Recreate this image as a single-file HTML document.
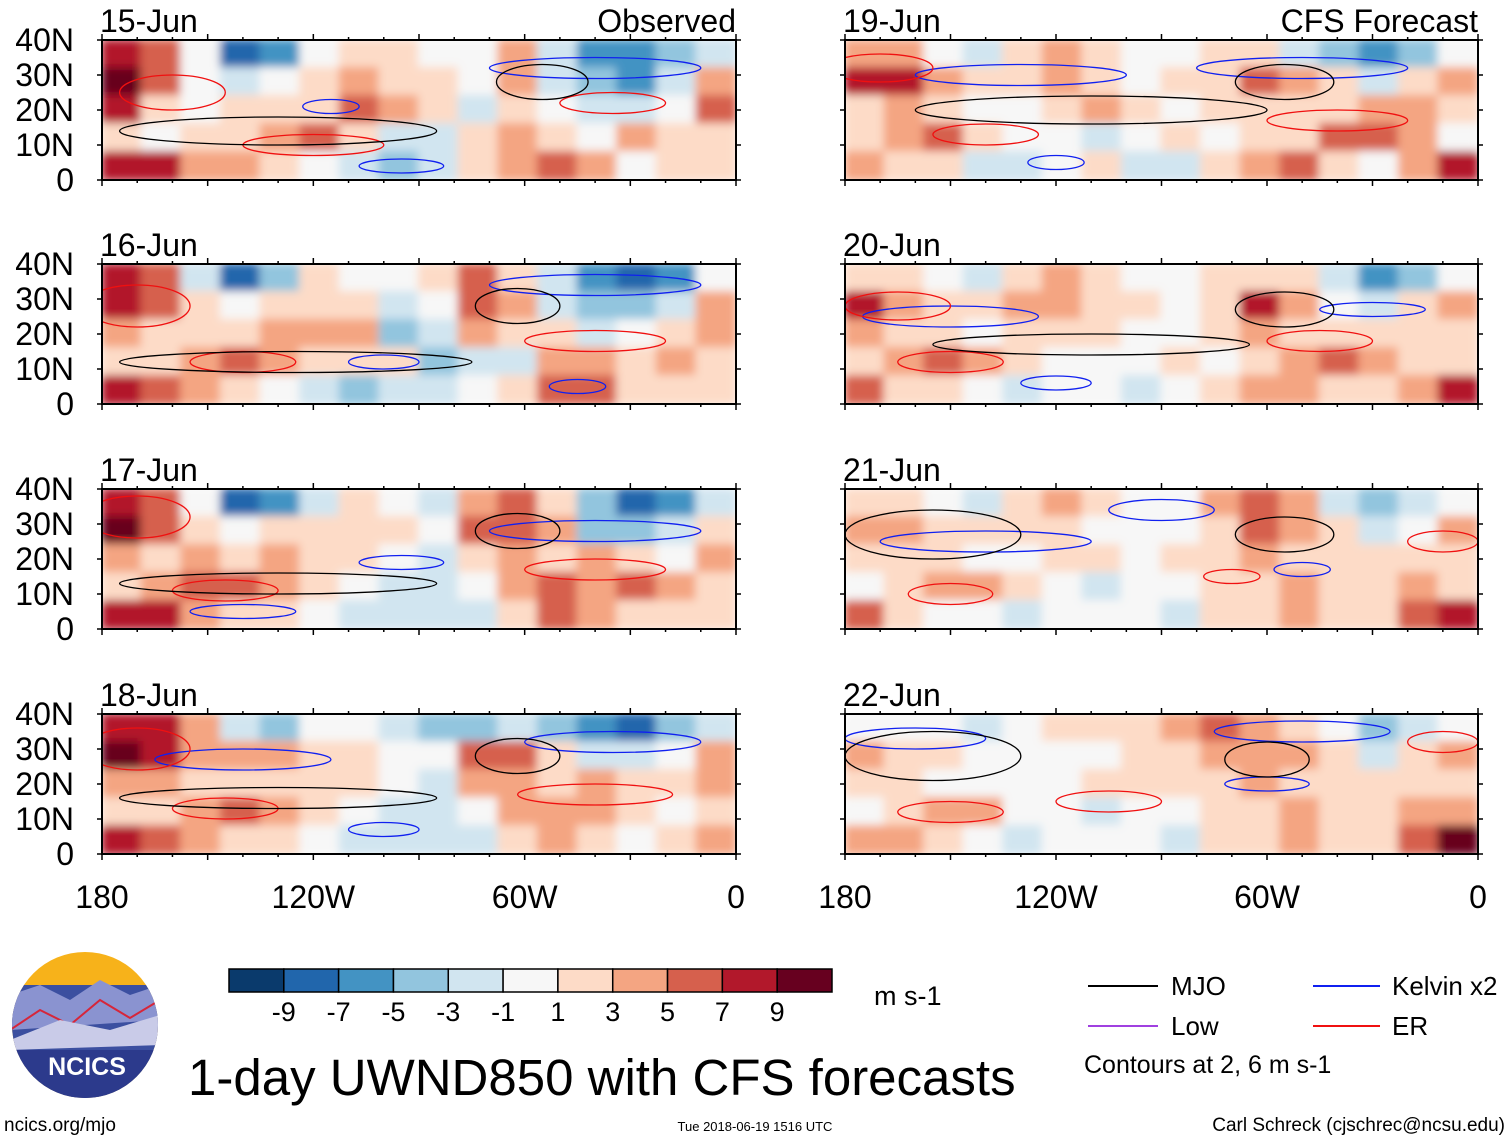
<!DOCTYPE html>
<html><head><meta charset="utf-8">
<style>
html,body{margin:0;padding:0;background:#fff;}
body{width:1510px;height:1141px;overflow:hidden;font-family:"Liberation Sans",sans-serif;}
svg text{font-family:"Liberation Sans",sans-serif;}
</style></head>
<body>
<svg id="chart" width="1510" height="1141" viewBox="0 0 1510 1141" xmlns="http://www.w3.org/2000/svg">
<defs>
<filter id="blur" x="-5%" y="-10%" width="110%" height="120%"><feGaussianBlur stdDeviation="4.5"/></filter>
</defs>
<g id="panels"></g>
<g id="bottom"></g>
</svg>
<script>
const panelLabels=["15-Jun","16-Jun","17-Jun","18-Jun","19-Jun","20-Jun","21-Jun","22-Jun"];
const panelTitles=["Observed","","","","CFS Forecast","","",""];
const latTicks=[40,30,20,10,0];
const latTickLabels=["40N","30N","20N","10N","0"];
const lonTicks=[-180,-120,-60,0];
const lonTickLabels=["180","120W","60W","0"];
const colorLevels=[-9,-7,-5,-3,-1,1,3,5,7,9];
const colorLevelLabels=["-9","-7","-5","-3","-1","1","3","5","7","9"];
const palette=["#0a3a6c","#2166ac","#4393c3","#92c5de","#d1e5f0","#f7f7f7","#fddbc7","#f4a582","#d6604d","#b2182b","#67001f"];
const u15=[[8,6,0,-8,-6,-1,1,2,0,-1,3,-2,-6,-7,-4,-2],[9,6,-1,-3,-1,1,3,2,1,0,4,-2,-5,-6,-3,3],[7,2,0,1,2,2,5,3,1,-2,2,0,-3,-2,-1,5],[1,0,2,1,3,5,2,-2,-3,1,4,2,-1,3,1,2],[8,7,4,3,1,-1,-3,-4,-2,1,3,6,3,-1,1,1]];
const u16=[[8,5,-2,-8,-4,1,0,-1,2,5,2,-3,-6,-9,-6,-1],[8,6,1,-1,1,2,2,-2,-1,6,4,-2,-5,-5,-2,3],[3,1,2,2,3,3,3,-4,-2,3,1,1,-2,-1,2,4],[1,1,3,5,3,2,1,1,-4,-2,-2,3,4,2,4,2],[7,6,3,1,0,-3,-5,-2,-2,0,2,5,6,2,1,1]];
const u17=[[8,6,-1,-9,-6,-2,1,0,-2,3,5,2,-5,-9,-6,-2],[9,5,2,-1,1,1,2,1,-1,5,6,3,-4,-5,-2,2],[4,2,3,2,3,2,1,0,-2,1,3,2,3,1,0,3],[1,3,6,5,3,1,-1,-2,-3,-1,3,6,4,5,3,2],[8,8,4,2,1,-1,-3,-2,-3,-2,2,6,3,1,1,1]];
const u18=[[8,7,4,-2,-4,-1,0,-2,-5,-4,-2,-5,-7,-8,-5,-2],[9,7,3,3,4,1,1,-1,-1,5,6,2,-3,-3,-1,3],[4,3,2,1,2,2,1,-1,-2,3,4,2,3,2,2,3],[1,2,4,5,3,1,0,-2,-3,-1,3,4,3,2,0,2],[7,6,3,2,1,-1,-3,-3,-3,-2,1,3,1,-1,1,3]];
const u19=[[3,3,0,-2,1,3,1,0,-1,2,1,-3,-4,-6,-4,-1],[8,7,4,2,2,3,1,0,2,2,6,4,1,-2,1,4],[2,3,1,0,0,2,3,1,0,1,2,1,1,3,3,1],[1,3,5,2,0,-1,-2,0,2,-1,1,2,5,6,3,0],[3,1,2,-2,-3,-1,1,-2,-2,1,3,6,1,-1,3,7]];
const u20=[[2,1,-1,-2,1,3,1,-1,-1,2,2,2,-3,-6,-4,-1],[7,4,2,1,3,3,2,1,0,2,7,3,-1,-3,1,3],[3,2,1,0,1,2,1,0,0,2,3,1,1,2,1,1],[2,4,5,3,1,0,-1,-1,1,0,2,4,5,4,2,1],[5,2,1,-1,-2,-1,0,-2,-1,1,3,4,1,1,4,7]];
const u21=[[2,1,-1,-2,1,3,1,-1,-1,3,5,3,-2,-5,-3,-1],[4,3,2,1,1,2,0,-1,-1,2,5,3,1,-3,0,3],[2,2,1,0,0,1,1,0,1,1,3,2,1,2,1,1],[0,1,3,4,1,-1,-2,-1,0,1,2,3,1,1,3,2],[5,2,0,-1,-2,-1,0,-1,-2,1,2,3,1,1,5,8]];
const u22=[[0,0,-1,-2,-1,1,2,2,3,6,4,2,-1,-4,-2,0],[3,2,1,0,-1,0,0,1,2,3,4,3,1,-3,1,3],[2,1,0,-1,0,0,1,2,1,2,3,1,1,2,2,1],[0,2,3,4,0,-1,-2,-1,0,1,2,3,1,1,3,3],[4,3,1,-1,-2,-1,0,-1,-2,1,2,3,1,1,5,9]];
const fields=[u15,u16,u17,u18,u19,u20,u21,u22];
// contours: [centerLon, centerLat, halfWidthDeg, halfHeightDeg]
const mjoContours=[[[-55,28,13,5],[-130,14,45,4]],[[-62,28,12,5],[-125,12,50,3]],[[-62,28,12,5],[-130,13,45,3]],[[-62,28,12,5],[-130,16,45,3]],[[-55,28,14,5],[-110,20,50,4]],[[-55,27,14,5],[-110,17,45,3]],[[-55,27,14,5],[-155,27,25,7]],[[-60,27,12,5],[-155,28,25,7]]];
const kelvinContours=[[[-115,21,8,2],[-95,4,12,2],[-40,32,30,3]],[[-100,12,10,2],[-45,5,8,2],[-40,34,30,3]],[[-140,5,15,2],[-40,28,30,3],[-95,19,12,2]],[[-140,27,25,3],[-35,32,25,3],[-100,7,10,2]],[[-130,30,30,3],[-50,32,30,3],[-120,5,8,2]],[[-150,25,25,3],[-30,27,15,2],[-120,6,10,2]],[[-140,25,30,3],[-90,34,15,3],[-50,17,8,2]],[[-160,33,20,3],[-50,35,25,3],[-60,20,12,2]]];
const erContours=[[[-160,25,15,5],[-120,10,20,3],[-35,22,15,3]],[[-170,28,15,6],[-140,12,15,3],[-40,18,20,3]],[[-170,32,15,6],[-145,11,15,3],[-40,17,20,3]],[[-170,30,15,6],[-145,13,15,3],[-40,17,22,3]],[[-170,32,15,4],[-140,13,15,3],[-40,17,20,3]],[[-165,28,15,4],[-150,12,15,3],[-45,18,15,3]],[[-150,10,12,3],[-70,15,8,2],[-10,25,10,3]],[[-150,12,15,3],[-105,15,15,3],[-10,32,10,3]]];

const NS="http://www.w3.org/2000/svg";
function mk(tag,attrs,parent){const e=document.createElementNS(NS,tag);for(const k in attrs)e.setAttribute(k,attrs[k]);parent.appendChild(e);return e;}
function colorFor(v){let i=0;while(i<colorLevels.length&&v>=colorLevels[i])i++;return palette[i];}
const colX=[[102,736],[845,1478]];
const rowY=[40,264,489,714];
const PH=140;
const panelsG=document.getElementById('panels');
fields.forEach((f,p)=>{
  const col=p<4?0:1,row=p%4;
  const x0=colX[col][0],x1=colX[col][1],y0=rowY[row];
  const xs=lon=>x0+(lon+180)/180*(x1-x0);
  const ys=lat=>y0+(40-lat)/40*PH;
  const g=mk('g',{},panelsG);
  
  
  const clip=mk('clipPath',{id:'clip'+p},g);
  mk('rect',{x:x0,y:y0,width:x1-x0,height:PH},clip);
  const hg=mk('g',{'clip-path':'url(#clip'+p+')'},g);
  const inner=mk('g',{filter:'url(#blur)'},hg);
  const nr=f.length,nc=f[0].length;
  const dLon=180/nc,dLat=40/nr;
  f.forEach((r,ri)=>r.forEach((v,ci)=>{
    const lonA=-180+ci*dLon,latA=40-ri*dLat;
    const c=mk('rect',{x:xs(lonA)-1,y:ys(latA)-1,width:xs(lonA+dLon)-xs(lonA)+2,height:ys(latA-dLat)-ys(latA)+2,fill:colorFor(v)},inner);
    
    
  }));
  const drawC=(arr,color,name)=>arr.forEach(m=>{
    const e=mk('ellipse',{cx:xs(m[0]),cy:ys(m[1]),rx:xs(m[0]+m[2])-xs(m[0]),ry:ys(m[1]-m[3])-ys(m[1]),fill:'none',stroke:color,'stroke-width':1.3},hg);
    
    
  });
  drawC(kelvinContours[p],'#1020f0','kelvin-contour');
  drawC(erContours[p],'#f01010','er-contour');
  drawC(mjoContours[p],'#000','mjo-contour');
  const fr=mk('rect',{x:x0,y:y0,width:x1-x0,height:PH,fill:'none',stroke:'#000','stroke-width':2},g);
  
  
  for(let lon=-180;lon<=0;lon+=10){
    const len=(lon%30===0)?6:3;
    mk('line',{x1:xs(lon),x2:xs(lon),y1:y0,y2:y0-len,stroke:'#000','stroke-width':1.5},g);
    mk('line',{x1:xs(lon),x2:xs(lon),y1:y0+PH,y2:y0+PH+len,stroke:'#000','stroke-width':1.5},g);
  }
  latTicks.forEach(lat=>{
    mk('line',{x1:x0,x2:x0-5,y1:ys(lat),y2:ys(lat),stroke:'#000','stroke-width':1.5},g);
    mk('line',{x1:x1,x2:x1+5,y1:ys(lat),y2:ys(lat),stroke:'#000','stroke-width':1.5},g);
  });
  const lt=mk('text',{x:x0-2,y:y0-8,'font-size':32},g);lt.textContent=panelLabels[p];
  
  
  if(panelTitles[p]){const tt=mk('text',{x:x1,y:y0-8,'font-size':32,'text-anchor':'end'},g);tt.textContent=panelTitles[p];
    
    }
  if(col===0){latTicks.forEach((lat,i)=>{const t=mk('text',{x:74,y:ys(lat)+11,'font-size':32,'text-anchor':'end'},g);t.textContent=latTickLabels[i];
    
    });}
  if(row===3){lonTicks.forEach((lon,i)=>{const t=mk('text',{x:xs(lon),y:908,'font-size':32,'text-anchor':'middle'},g);t.textContent=lonTickLabels[i];
    
    });}
});
const bot=document.getElementById('bottom');
const cbx0=229,cbx1=832,cby=969,cbh=23,bw=(cbx1-cbx0)/palette.length;
palette.forEach((c,i)=>{const r=mk('rect',{x:cbx0+i*bw,y:cby,width:bw,height:cbh,fill:c,stroke:'#000','stroke-width':1.5},bot);
  
  });
colorLevelLabels.forEach((l,i)=>{const t=mk('text',{x:cbx0+(i+1)*bw,y:1021,'font-size':27,'text-anchor':'middle'},bot);t.textContent=l;
  
  });
</script>
<svg style="position:absolute;left:0;top:0" width="1510" height="1141">
<defs><clipPath id="logoclip"><circle cx="85" cy="1025" r="73"/></clipPath></defs>
<g clip-path="url(#logoclip)">
<rect x="10" y="950" width="150" height="150" fill="#f7b21a"/>
<rect x="10" y="985" width="150" height="120" fill="#3b4fa0"/>
<path d="M10 995 L40 985 L70 1000 L100 980 L130 995 L160 985 L160 1020 L10 1030Z" fill="#8a93d0"/>
<path d="M10 1030 L40 1010 L70 1025 L100 1000 L130 1018 L160 1000" fill="none" stroke="#d6263a" stroke-width="2"/>
<path d="M10 1040 L60 1020 L110 1030 L160 1015 L160 1045 L10 1050Z" fill="#c9cbe8"/>
<rect x="10" y="1050" width="150" height="50" fill="#2c3a8c"/>
</g>
<text x="87" y="1075" font-size="25" font-weight="bold" fill="#fff" text-anchor="middle" font-family="Liberation Sans">NCICS</text>
<text x="874" y="1005" font-size="27" font-family="Liberation Sans">m s-1</text>
<text x="188" y="1095" font-size="51" font-family="Liberation Sans">1-day UWND850 with CFS forecasts</text>
<g font-family="Liberation Sans" font-size="26">
<line x1="1088" x2="1158" y1="986" y2="986" stroke="#000" stroke-width="2"/><text x="1171" y="995">MJO</text>
<line x1="1313" x2="1380" y1="986" y2="986" stroke="#1020f0" stroke-width="2"/><text x="1392" y="995">Kelvin x2</text>
<line x1="1088" x2="1158" y1="1026" y2="1026" stroke="#a040e0" stroke-width="2"/><text x="1171" y="1035">Low</text>
<line x1="1313" x2="1380" y1="1026" y2="1026" stroke="#f01010" stroke-width="2"/><text x="1392" y="1035">ER</text>
<text x="1084" y="1073" font-size="25">Contours at 2, 6 m s-1</text>
</g>
<text x="4" y="1131" font-size="19" font-family="Liberation Sans">ncics.org/mjo</text>
<text x="755" y="1131" font-size="13" text-anchor="middle" font-family="Liberation Sans">Tue 2018-06-19 1516 UTC</text>
<text x="1505" y="1131" font-size="19" text-anchor="end" font-family="Liberation Sans">Carl Schreck (cjschrec@ncsu.edu)</text>
</svg>
</body></html>
